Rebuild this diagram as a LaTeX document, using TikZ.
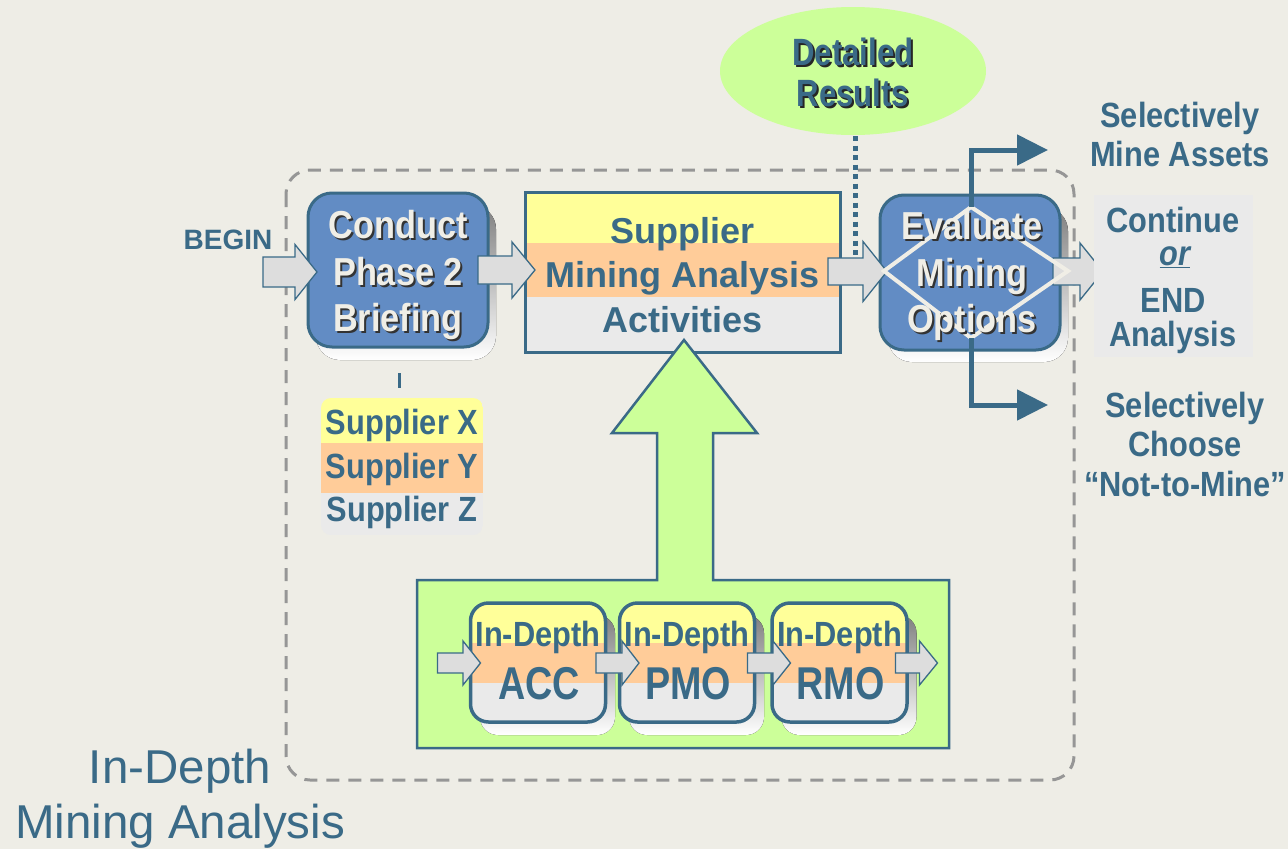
\documentclass[tikz,border=0pt]{standalone}
\usepackage{fontspec}
\setmainfont{Liberation Sans}
\newfontfamily\narrowfam{Liberation Sans}[FakeStretch=0.88]
\newfontfamily\tightfam{Liberation Sans}[FakeStretch=0.82]
\newcommand\nb{\narrowfam\bfseries}
\newcommand\tb{\tightfam\bfseries}
\usetikzlibrary{arrows.meta,calc}

\definecolor{bg}{RGB}{238,237,230}
\definecolor{ink}{RGB}{58,106,135}
\definecolor{boxblue}{RGB}{98,140,196}
\definecolor{paleyellow}{RGB}{255,255,153}
\definecolor{peach}{RGB}{255,204,153}
\definecolor{bandgray}{RGB}{234,234,234}
\definecolor{lime}{RGB}{204,255,153}
\definecolor{shade}{RGB}{192,192,192}
\definecolor{framegray}{RGB}{150,150,150}
\definecolor{arrowfill}{RGB}{221,221,221}
\definecolor{cream}{RGB}{240,238,230}

% block arrow: x-start, head base, tip, y, shaft half height, head half height
\newcommand\blockarrow[6]{%
  \draw[blockarrowstyle] (#1,#4-#5) -- (#2,#4-#5) -- (#2,#4-#6) -- (#3,#4)
    -- (#2,#4+#6) -- (#2,#4+#5) -- (#1,#4+#5) -- cycle;}

\begin{document}
\begin{tikzpicture}[x=1pt,y=-1pt,
  every node/.style={inner sep=0pt, outer sep=0pt},
  blockarrowstyle/.style={fill=arrowfill, draw=ink, line width=1.3pt, line join=miter},
  bluebox/.style={draw=ink, fill=boxblue, line width=3pt, rounded corners=24pt},
  boxlabel/.style={font=\nb\fontsize{39}{46.5}\selectfont, align=center, text=cream},
  boxlabelshadow/.style={font=\nb\fontsize{39}{46.5}\selectfont, align=center, text=black!80},
  inktext/.style={font=\nb\fontsize{35}{39}\selectfont, align=center, text=ink},
  smallbox/.style={draw=ink, line width=3.5pt, rounded corners=18pt},
  branch/.style={draw=ink, line width=5pt, -{Triangle[length=31pt,width=30pt]}},
]
% canvas
\fill[bg] (0,0) rectangle (1288,849);
\useasboundingbox (0,0) rectangle (1288,849);

% dashed outline of the in-depth phase
\draw[framegray, line width=3pt, dash pattern=on 13pt off 9pt, rounded corners=24pt]
  (286,170) rectangle (1074,780);
\node[font=\fontsize{47.5}{55}\selectfont, text=ink, align=center] (phase) at (180,799)
  {In-Depth\\Mining Analysis};

% Detailed Results bubble
\fill[lime] (853,71) ellipse [x radius=133, y radius=64];
\node[font=\tb\fontsize{38}{41}\selectfont, align=center, text=black!85] at (855,74)
  {Detailed\\Results};
\node[font=\tb\fontsize{38}{41}\selectfont, align=center, text=ink] (detail) at (853,72)
  {Detailed\\Results};
\coordinate (dotend) at (855,273);
\draw[ink, line width=5pt, dash pattern=on 5pt off 4.5pt] (855,136) -- (dotend);

% Conduct Phase 2 Briefing
\fill[shade, rounded corners=24pt] (316,205) rectangle (496,360);
\node[bluebox, minimum width=180pt, minimum height=154pt] (conduct) at (398,270) {};
\node[boxlabelshadow] at ([shift={(2,7)}]conduct.center) {Conduct\\Phase 2\\Briefing};
\node[boxlabel] (conductlabel) at ([shift={(0,5)}]conduct.center) {Conduct\\Phase 2\\Briefing};

% BEGIN
\node[font=\bfseries\fontsize{28}{32}\selectfont, text=ink] (begin) at (228,240) {BEGIN};
\blockarrow{263}{295}{317}{272}{15}{27.5}

% supplier list
\begin{scope}
  \clip[rounded corners=10pt] (321,398) rectangle (483,535);
  \fill[paleyellow] (321,398) rectangle (483,443);
  \fill[peach] (321,443) rectangle (483,493);
  \fill[bandgray] (321,493) rectangle (483,535);
\end{scope}
\node[inktext] (supx) at (402,425) {Supplier X};
\node[inktext] (supy) at (402,469) {Supplier Y};
\node[inktext] (supz) at (402,512) {Supplier Z};
\draw[ink, line width=3pt] (399,373) -- (399,388);

% Supplier Mining Analysis Activities
\fill[paleyellow] (525,192) rectangle (840,243);
\fill[peach] (525,243) rectangle (840,297);
\fill[bandgray] (525,297) rectangle (840,352);
\node[draw=ink, line width=3pt, minimum width=315pt, minimum height=160pt] (sma) at (682.5,272) {};
\node[font=\bfseries\fontsize{36}{44.5}\selectfont, text=ink, align=center] (smalabel) at (682.5,275)
  {Supplier\\Mining Analysis\\Activities};
\blockarrow{478}{512}{535}{270}{14}{28}

% in-depth analyses feeding upward
\draw[fill=lime, draw=ink, line width=2.5pt, line join=miter]
  (417,580) -- (657,580) -- (657,433) -- (612,433) -- (684,340) -- (757,433)
  -- (713,433) -- (713,580) -- (949,580) -- (949,748) -- (417,748) -- cycle;

\foreach \nm/\cx/\lab in {acc/538/ACC, pmo/687/PMO, rmo/839.5/RMO}{
  \fill[shade, rounded corners=18pt] (\cx-58,615) rectangle (\cx+77,735);
  \begin{scope}
    \clip[rounded corners=18pt] (\cx-67.5,603) rectangle (\cx+67.5,722);
    \fill[paleyellow] (\cx-70,600) rectangle (\cx+70,643);
    \fill[peach] (\cx-70,643) rectangle (\cx+70,683);
    \fill[bandgray] (\cx-70,683) rectangle (\cx+70,725);
  \end{scope}
  \node[smallbox, minimum width=135pt, minimum height=119pt] (\nm) at (\cx,662.5) {};
  \node[font=\nb\fontsize{35}{38}\selectfont, text=ink] at (\cx,637) {In-Depth};
  \node[font=\tb\fontsize{46}{50}\selectfont, text=ink] at (\cx+1,684) {\lab};
}
\blockarrow{437.5}{463}{480.5}{663}{10}{22}
\blockarrow{596}{622}{639}{663}{10}{22}
\blockarrow{747.5}{773}{790.5}{663}{10}{22}
\blockarrow{895.5}{919.5}{937.5}{663}{10}{22}

% Evaluate Mining Options
\fill[shade, rounded corners=24pt] (888,207) rectangle (1068,362);
\node[bluebox, minimum width=180pt, minimum height=155pt] (evaluate) at (970,272.5) {};
\blockarrow{828}{863}{887}{271.5}{13.5}{30}
\blockarrow{1053}{1080}{1103}{271.5}{13.5}{28.5}
\coordinate (dtop) at (971,207);
\coordinate (dright) at (1068,271);
\coordinate (dbottom) at (971,338);
\coordinate (dleft) at (884,271);
\draw[cream, line width=4pt, line join=miter] (dtop) -- (dright) -- (dbottom) -- (dleft) -- cycle;
\node[boxlabelshadow] at (974,278) {Evaluate\\Mining\\Options};
\node[boxlabel] (evallabel) at (972,276) {Evaluate\\Mining\\Options};

% outcome branches
\coordinate (upend) at (1048,150);
\coordinate (downend) at (1048,405);
\draw[branch] (dtop) |- (upend);
\draw[branch] (dbottom) |- (downend);

\node[inktext] (mine) at (1180,134) {Selectively\\Mine Assets};
\fill[bandgray] (1094,195) rectangle (1253,357);
\node[inktext] (cont) at (1173,220) {Continue};
\node[inktext] (or) at (1175,257) {\itshape\underline{or}};
\node[inktext] (endtxt) at (1173,300) {END};
\node[inktext] (analysis) at (1173,337) {Analysis};
\node[inktext, font=\nb\fontsize{35}{39.5}\selectfont] (notmine) at (1185,444)
  {Selectively\\Choose\\“Not-to-Mine”};
\end{tikzpicture}
\end{document}
